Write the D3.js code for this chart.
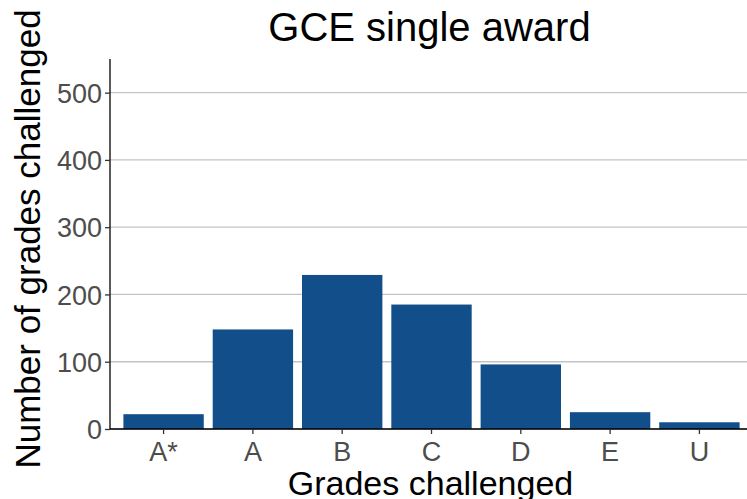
<!DOCTYPE html>
<html>
<head>
<meta charset="utf-8">
<script src="https://cdn.jsdelivr.net/npm/d3@7"></script>
<style>
  body { margin: 0; background: #fff; }
  svg { font-family: "Liberation Sans", Arial, sans-serif; }
</style>
</head>
<body>
<svg id="chart" width="747" height="499"></svg>
<script>
// data
let grades = ["A*", "A", "B", "C", "D", "E", "U"];
let counts = [22, 148, 229, 185, 96, 25, 10];
let yTicks = [0, 100, 200, 300, 400, 500];

let chart = d3.select("#chart");
let plotLeft = 110, plotRight = 753, plotTop = 59, plotBottom = 429;

let x = d3.scaleBand()
    .domain(grades)
    .range([plotLeft, plotRight])
    .paddingInner(0.1)
    .paddingOuter(0.15);

let y = d3.scaleLinear()
    .domain([0, 550])
    .range([plotBottom, plotTop]);

// grid lines
chart.selectAll("line.grid")
    .data(yTicks)
    .enter()
    .append("line")
    .attr("class", "grid")
    .attr("x1", plotLeft)
    .attr("x2", 747)
    .attr("y1", d => y(d))
    .attr("y2", d => y(d))
    .attr("stroke", "#c4c4c4")
    .attr("stroke-width", 1.3);

// bars
chart.selectAll("rect.bar")
    .data(counts)
    .enter()
    .append("rect")
    .attr("class", "bar")
    .attr("x", (d, i) => x(grades[i]))
    .attr("width", x.bandwidth())
    .attr("y", d => y(d))
    .attr("height", d => plotBottom - y(d))
    .attr("fill", "#124f8a");

// axes
let yAxis = chart.append("g")
    .attr("transform", "translate(" + plotLeft + ",0)")
    .call(d3.axisLeft(y).tickValues(yTicks).tickSize(5).tickPadding(3));

let xAxis = chart.append("g")
    .attr("transform", "translate(0," + plotBottom + ")")
    .call(d3.axisBottom(x).tickSize(5).tickPadding(3));

[xAxis, yAxis].forEach(function(ax) {
    ax.select(".domain").attr("stroke", "#000").attr("stroke-width", 1.3);
    ax.selectAll(".tick line").attr("stroke", "#333").attr("stroke-width", 1.3);
    ax.selectAll(".tick text")
        .attr("fill", "#4d4d4d")
        .style("font-size", "27px")
        .style("font-family", "Liberation Sans, Arial, sans-serif");
});
xAxis.select(".domain").attr("d", "M" + plotLeft + ",0H747");
yAxis.select(".domain").attr("d", "M0," + plotTop + "V" + plotBottom);
xAxis.selectAll(".tick text").attr("dy", "0.9em");
yAxis.selectAll(".tick text").attr("dy", "0.36em");

// titles
chart.append("text")
    .text("GCE single award")
    .attr("x", (plotLeft + 747) / 2 + 1)
    .attr("y", 41)
    .attr("text-anchor", "middle")
    .style("font-size", "40px")
    .style("fill", "#000");

chart.append("text")
    .text("Grades challenged")
    .attr("x", (plotLeft + 747) / 2 + 2)
    .attr("y", 495)
    .attr("text-anchor", "middle")
    .style("font-size", "34px")
    .style("fill", "#000");

chart.append("text")
    .text("Number of grades challenged")
    .attr("transform", "translate(40," + ((plotTop + plotBottom) / 2 - 5) + ") rotate(-90)")
    .attr("text-anchor", "middle")
    .style("font-size", "35px")
    .style("fill", "#000");
</script>
</body>
</html>
